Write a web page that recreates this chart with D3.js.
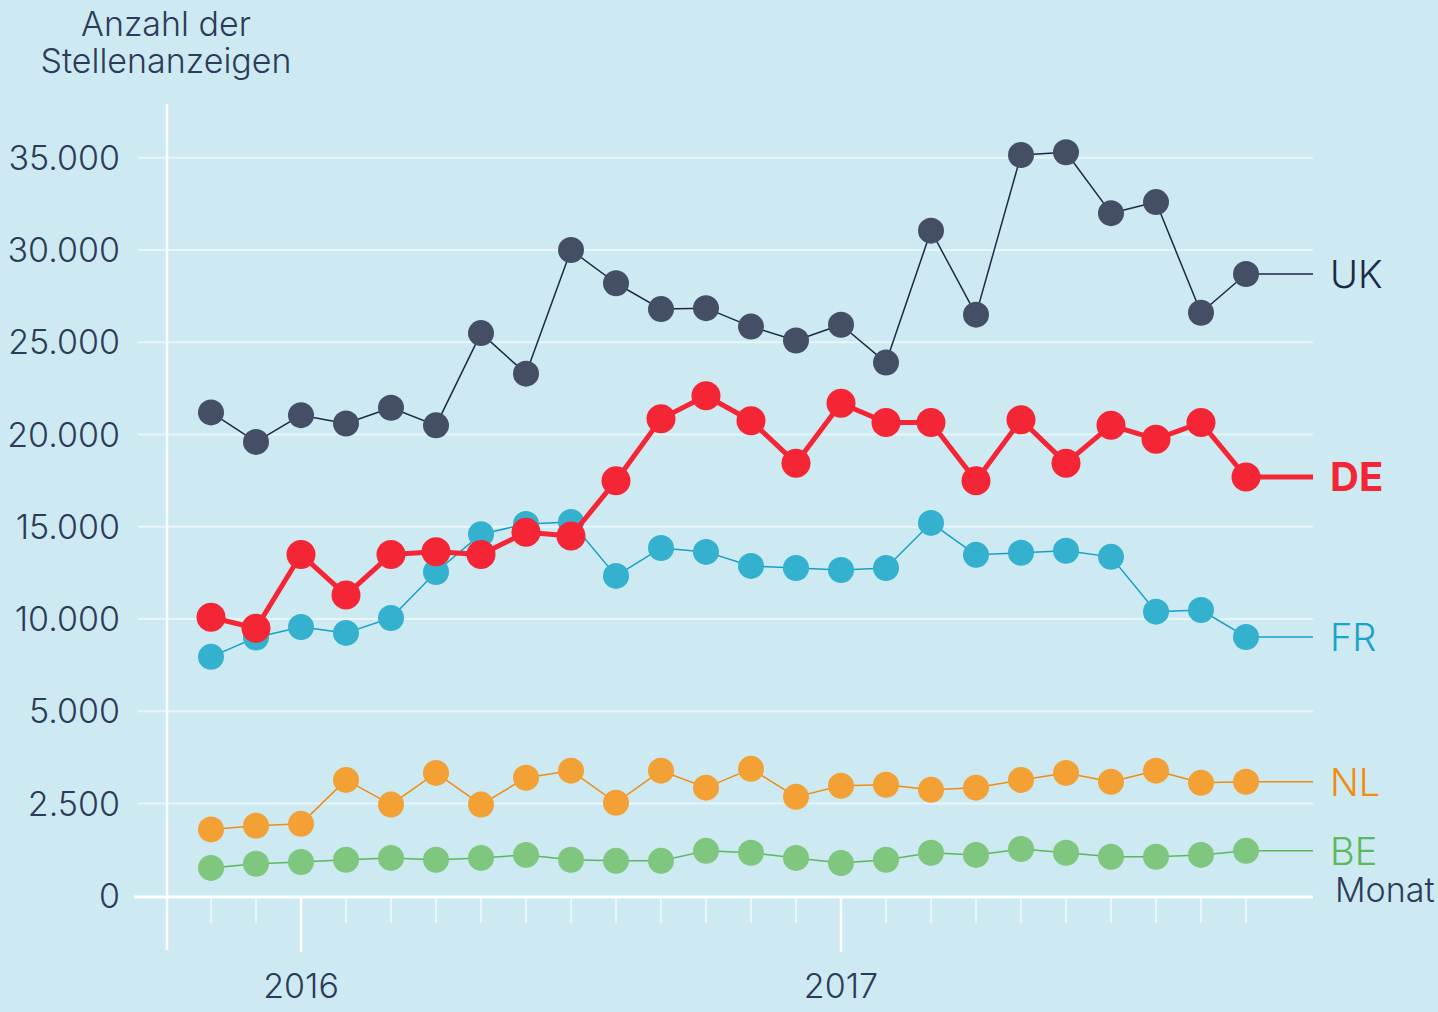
<!DOCTYPE html>
<html>
<head>
<meta charset="utf-8">
<script src="https://cdn.jsdelivr.net/npm/d3@7"></script>
<style>
  body { margin: 0; background: #cdeaf2; }
  svg { display: block; }
  .lbl { font-family: "Helvetica Neue", Inter, Roboto, "Open Sans", sans-serif; font-weight: 300; }
</style>
</head>
<body>
<script>
// months Nov 2015 .. Oct 2017
const months = ["2015-11","2015-12","2016-01","2016-02","2016-03","2016-04","2016-05","2016-06",
  "2016-07","2016-08","2016-09","2016-10","2016-11","2016-12","2017-01","2017-02","2017-03",
  "2017-04","2017-05","2017-06","2017-07","2017-08","2017-09","2017-10"];

const yearTicks = ["2016-01", "2017-01"];
const yearLabels = ["2016", "2017"];

const yTicks = [0, 2500, 5000, 10000, 15000, 20000, 25000, 30000, 35000];

const uk = [21200,19600,21050,20600,21450,20500,25500,23300,30000,28200,26800,26850,
  25850,25100,25950,23900,31050,26500,35150,35300,32000,32600,26600,28700];
const de = [10100,9500,13500,11300,13500,13650,13500,14700,14500,17500,20850,22100,
  20750,18450,21700,20650,20650,17500,20800,18450,20500,19750,20650,17700];
const fr = [7950,9000,9570,9250,10060,12550,14600,15150,15260,12340,13850,13640,
  12880,12770,12660,12770,15210,13480,13590,13700,13370,10400,10490,9030];
const nl = [1800,1900,1950,3140,2470,3330,2470,3200,3390,2520,3390,2930,
  3440,2680,2980,3010,2870,2930,3140,3330,3090,3390,3060,3090];
const be = [760,870,920,980,1030,980,1030,1110,980,950,950,1220,
  1170,1030,890,980,1170,1110,1270,1170,1060,1060,1110,1220];

const series = [
  {name: "UK", values: uk, dot: "#444f66", line: "#1d2944", text: "#1b2a47", lw: 1.5, r: 13, bold: false},
  {name: "FR", values: fr, dot: "#34b1cf", line: "#16a0c9", text: "#1aa3cb", lw: 1.5, r: 13, bold: false},
  {name: "NL", values: nl, dot: "#f3a035", line: "#f08c12", text: "#f08c12", lw: 1.5, r: 13, bold: false},
  {name: "BE", values: be, dot: "#7fc67e", line: "#5cb85b", text: "#5cb85b", lw: 1.5, r: 13, bold: false},
  {name: "DE", values: de, dot: "#f42535", line: "#f42535", text: "#f42535", lw: 5, r: 14.5, bold: true}
];

const W = 1438, H = 1012;
const svg = d3.select("body").append("svg").attr("width", W).attr("height", H);

svg.append("rect").attr("width", W).attr("height", H).attr("fill", "#cdeaf2");

const x = d3.scalePoint().domain(months).range([211, 1246]);
// piecewise scale: below 5.000 the axis is stretched
const y = d3.scaleLinear().domain([0, 2500, 5000, 35000]).range([896, 803.5, 711.3, 157.8]);

const gridRight = 1313;

// gridlines
svg.append("g").selectAll("line")
  .data(yTicks.filter(d => d > 0))
  .enter().append("line")
  .attr("x1", 138).attr("x2", gridRight)
  .attr("y1", d => y(d)).attr("y2", d => y(d))
  .attr("stroke", "#e8f5f9").attr("stroke-width", 2);

// y tick labels
svg.append("g").selectAll("text")
  .data(yTicks)
  .enter().append("text")
  .attr("class", "lbl")
  .attr("x", 120).attr("y", d => y(d) + 12)
  .attr("text-anchor", "end")
  .attr("font-size", 34)
  .attr("fill", "#2d3b58")
  .text(d => d === 0 ? "0" : d3.format(",")(d).replace(/,/g, "."));

// month ticks
svg.append("g").selectAll("line")
  .data(months.filter(m => !yearTicks.includes(m)))
  .enter().append("line")
  .attr("x1", d => x(d)).attr("x2", d => x(d))
  .attr("y1", 897).attr("y2", 923)
  .attr("stroke", "#e8f5f9").attr("stroke-width", 2);

svg.append("g").selectAll("line")
  .data(yearTicks)
  .enter().append("line")
  .attr("x1", d => x(d)).attr("x2", d => x(d))
  .attr("y1", 897).attr("y2", 952)
  .attr("stroke", "#ffffff").attr("stroke-width", 2.5);

svg.append("g").selectAll("text")
  .data(yearTicks)
  .enter().append("text")
  .attr("class", "lbl")
  .attr("x", d => x(d)).attr("y", 998)
  .attr("text-anchor", "middle")
  .attr("font-size", 34)
  .attr("fill", "#2d3b58")
  .text((d, i) => yearLabels[i]);

// axes
svg.append("line").attr("x1", 167).attr("x2", 167).attr("y1", 104).attr("y2", 950)
  .attr("stroke", "#ffffff").attr("stroke-width", 2.5);
svg.append("line").attr("x1", 134).attr("x2", gridRight).attr("y1", 897).attr("y2", 897)
  .attr("stroke", "#ffffff").attr("stroke-width", 3);

// axis titles
svg.append("text").attr("class", "lbl")
  .attr("x", 166).attr("y", 36).attr("text-anchor", "middle")
  .attr("font-size", 34).attr("fill", "#2d3b58").text("Anzahl der");
svg.append("text").attr("class", "lbl")
  .attr("x", 166).attr("y", 73).attr("text-anchor", "middle")
  .attr("font-size", 34).attr("fill", "#2d3b58").text("Stellenanzeigen");
svg.append("text").attr("class", "lbl")
  .attr("x", 1335).attr("y", 902)
  .attr("font-size", 34).attr("fill", "#2d3b58").text("Monat");

const line = d3.line().x(d => d[0]).y(d => d[1]);

series.forEach(s => {
  const g = svg.append("g");
  const pts = s.values.map((v, i) => [x(months[i]), y(v)]);
  const last = pts[pts.length - 1];
  g.append("path")
    .attr("d", line(pts.concat([[gridRight, last[1]]])))
    .attr("fill", "none")
    .attr("stroke", s.line)
    .attr("stroke-width", s.lw)
    .attr("stroke-linejoin", "round");
  g.selectAll("circle")
    .data(s.values)
    .enter().append("circle")
    .attr("cx", (d, i) => x(months[i]))
    .attr("cy", d => y(d))
    .attr("r", s.r)
    .attr("fill", s.dot);
  g.append("text")
    .attr("class", "lbl")
    .attr("x", 1330).attr("y", last[1] + 14)
    .attr("font-size", s.bold ? 40 : 38)
    .style("font-weight", s.bold ? 700 : 300)
    .attr("fill", s.text)
    .text(s.name);
});
</script>
</body>
</html>
